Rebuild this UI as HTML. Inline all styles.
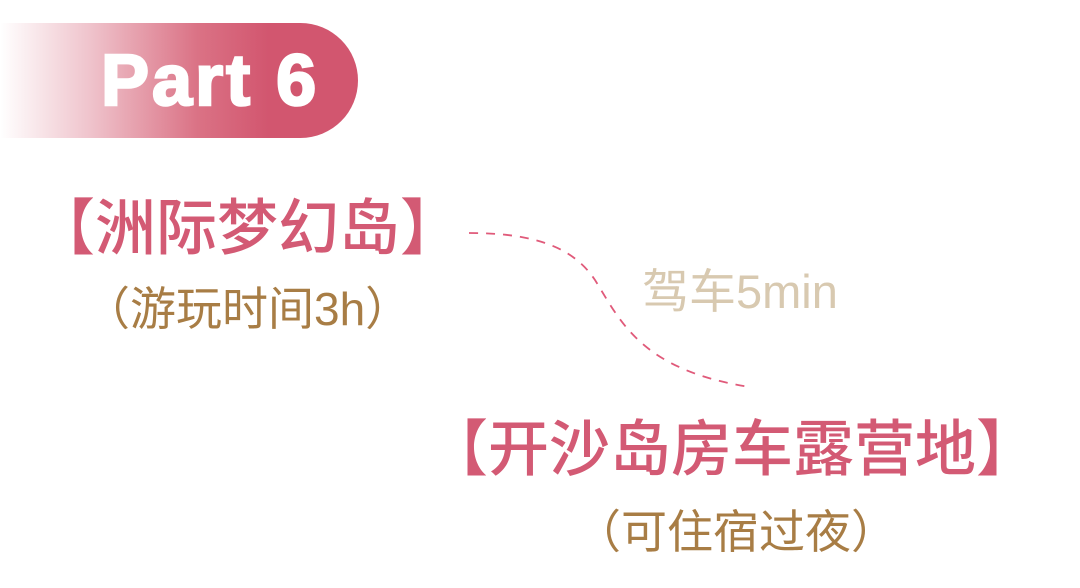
<!DOCTYPE html>
<html><head><meta charset="utf-8"><style>
html,body{margin:0;padding:0;background:#fff;}
body{width:1080px;height:588px;position:relative;overflow:hidden;font-family:"Liberation Sans","Noto Sans CJK SC",sans-serif;}
.pill{position:absolute;left:0;top:23px;width:358px;height:115px;border-radius:0 58px 58px 0;background:linear-gradient(90deg,rgba(210,85,110,0) 0%,rgba(210,85,110,0.35) 25%,rgba(212,90,112,0.85) 55%,#d2566f 75%,#d2566f 100%);}
.pt{position:absolute;left:101px;top:45px;font:bold 72px/1 "Liberation Sans",sans-serif;color:#fff;white-space:nowrap;letter-spacing:3px;-webkit-text-stroke:2.5px #fff;}
.t{position:absolute;white-space:nowrap;line-height:1;font-family:"Liberation Sans","Noto Sans CJK SC",sans-serif;}
</style></head><body>
<div class="pill"></div>
<div class="pt">Part 6</div>
<div class="t" style="left:34px;top:198px;font-size:61px;color:#d35a74;font-weight:500;">【洲际梦幻岛】</div>
<div class="t" style="left:84px;top:286px;font-size:46px;color:#a87d45;">（游玩时间3h）</div>
<div class="t" style="left:642px;top:268px;font-size:47px;color:#d8c9b0;">驾车5min</div>
<div class="t" style="left:427px;top:419px;font-size:61px;color:#d35a74;font-weight:500;">【开沙岛房车露营地】</div>
<div class="t" style="left:575px;top:509px;font-size:46px;color:#a87d45;">（可住宿过夜）</div>
<svg width="1080" height="588" style="position:absolute;left:0;top:0">
<path d="M469 233 C540 233 575 250 595 280 C620 320 640 370 750 387" fill="none" stroke="#e05a7a" stroke-width="1.8" stroke-dasharray="9 8"/>
</svg>
</body></html>
